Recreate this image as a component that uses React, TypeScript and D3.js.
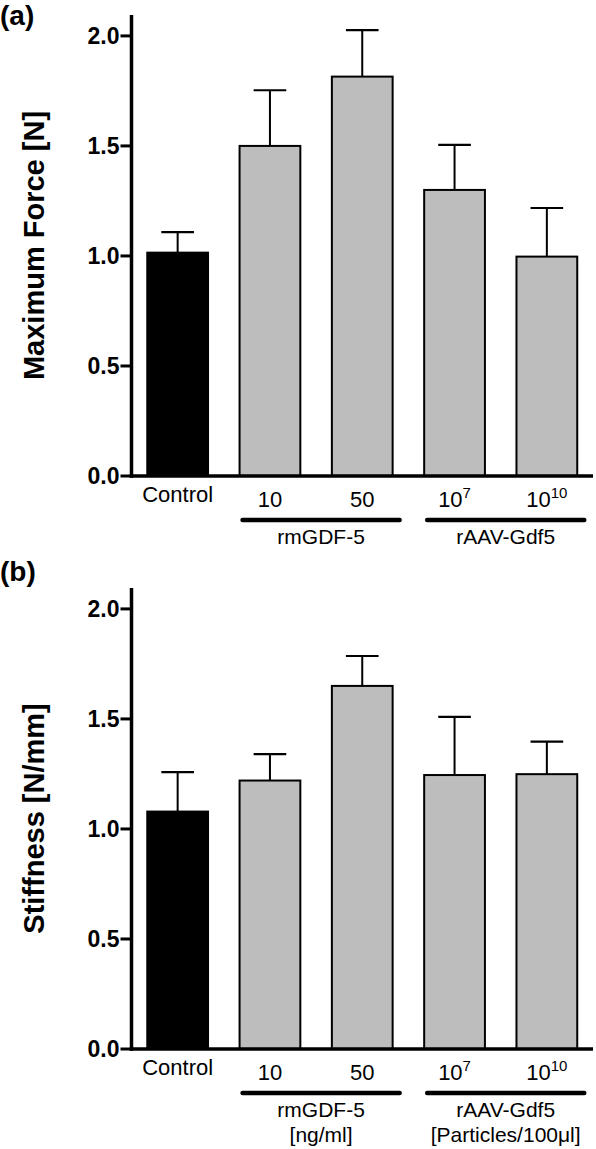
import React from "react";
import * as d3 from "d3";

const categories = ["Control", "10", "50", "10^7", "10^10"];
const tickBase = ["Control", "10", "50", "10", "10"];
const tickExp = ["", "", "", "7", "10"];
const barColors = ["#000000", "#bdbdbd", "#bdbdbd", "#bdbdbd", "#bdbdbd"];

const forceMean = [1.015, 1.5, 1.815, 1.3, 0.997];
const forceErr = [0.093, 0.253, 0.211, 0.205, 0.221];
const stiffMean = [1.079, 1.22, 1.65, 1.245, 1.249];
const stiffErr = [0.179, 0.12, 0.136, 0.264, 0.148];

const yTicks = [0, 0.5, 1.0, 1.5, 2.0];
const groupNames = ["rmGDF-5", "rAAV-Gdf5"];
const groupUnits = ["[ng/ml]", "[Particles/100\u03bcl]"];
const groupMembers = [
  [1, 2],
  [3, 4],
];

const FONT = "'Liberation Sans', Arial, Helvetica, sans-serif";

const W = 596;
const H = 1149;
const axisX = 131.5;
const axisRight = 593;
const baseY = 476;
const topY = 15;

const x = d3
  .scaleBand<string>()
  .domain(categories)
  .range([axisX, axisRight])
  .paddingInner(0.32)
  .paddingOuter(0.16);

const y = d3.scaleLinear().domain([0, 2.095]).range([baseY, topY]);
const fmt = d3.format(".1f");

function Panel({
  offsetY,
  label,
  title,
  means,
  errs,
  showUnits,
}: {
  offsetY: number;
  label: string;
  title: string;
  means: number[];
  errs: number[];
  showUnits: boolean;
}) {
  const bw = x.bandwidth();
  return (
    <g transform={`translate(0,${offsetY})`}>
      <text
        x={0}
        y={offsetY === 0 ? 25 : 8}
        fontFamily={FONT}
        fontWeight="bold"
        fontSize={28}
      >
        {label}
      </text>
      {/* y title */}
      <text
        transform={`translate(44,${(topY + baseY) / 2}) rotate(-90)`}
        textAnchor="middle"
        fontFamily={FONT}
        fontWeight="bold"
        fontSize={29}
      >
        {title}
      </text>
      {/* bars */}
      {categories.map((c, i) => (
        <g key={c}>
          <line
            x1={x(c)! + bw / 2}
            x2={x(c)! + bw / 2}
            y1={y(means[i])}
            y2={y(means[i] + errs[i])}
            stroke="#000"
            strokeWidth={2}
          />
          <line
            x1={x(c)! + bw / 2 - bw * 0.26}
            x2={x(c)! + bw / 2 + bw * 0.26}
            y1={y(means[i] + errs[i])}
            y2={y(means[i] + errs[i])}
            stroke="#000"
            strokeWidth={2.2}
          />
          <rect
            x={x(c)! + 1}
            y={y(means[i])}
            width={bw - 2}
            height={baseY - y(means[i])}
            fill={barColors[i]}
            stroke="#000"
            strokeWidth={2}
          />
        </g>
      ))}
      {/* axes */}
      <line x1={axisX} x2={axisX} y1={topY} y2={baseY + 1.75} stroke="#000" strokeWidth={3.5} />
      <line x1={axisX - 1.75} x2={axisRight} y1={baseY} y2={baseY} stroke="#000" strokeWidth={3.5} />
      {yTicks.map((t) => (
        <g key={t}>
          <line x1={axisX - 11} x2={axisX} y1={y(t)} y2={y(t)} stroke="#000" strokeWidth={3} />
          <text
            x={axisX - 12}
            y={y(t)}
            dy="0.36em"
            textAnchor="end"
            fontFamily={FONT}
            fontWeight="bold"
            fontSize={23}
          >
            {fmt(t)}
          </text>
        </g>
      ))}
      {/* category labels */}
      {categories.map((c, i) => (
        <text
          key={c}
          x={x(c)! + bw / 2}
          y={i === 0 ? baseY + 26 : baseY + 31}
          textAnchor="middle"
          fontFamily={FONT}
          fontSize={22}
        >
          {tickBase[i]}
          {tickExp[i] ? (
            <tspan fontSize={15} dy={-9}>
              {tickExp[i]}
            </tspan>
          ) : null}
        </text>
      ))}
      {/* group lines */}
      {groupMembers.map((m, gi) => {
        const x0 = x(categories[m[0]])! + 4;
        const x1 = x(categories[m[1]])! + bw + 6;
        const cx = (x0 + x1) / 2;
        return (
          <g key={gi}>
            <line x1={x0} x2={x1} y1={baseY + 44} y2={baseY + 44} stroke="#000" strokeWidth={4.5} strokeLinecap="round" />
            <text x={cx} y={baseY + 68} textAnchor="middle" fontFamily={FONT} fontSize={21}>
              {groupNames[gi]}
            </text>
            {showUnits ? (
              <text x={cx} y={baseY + 93} textAnchor="middle" fontFamily={FONT} fontSize={21}>
                {groupUnits[gi]}
              </text>
            ) : null}
          </g>
        );
      })}
    </g>
  );
}

export default function App() {
  return (
    <svg
      width={W}
      height={H}
      viewBox={`0 0 ${W} ${H}`}
      style={{ position: "absolute", left: 0, top: 0, background: "#fff" }}
    >
      <rect x={0} y={0} width={W} height={H} fill="#fff" />
      <Panel offsetY={0} label="(a)" title="Maximum Force [N]" means={forceMean} errs={forceErr} showUnits={false} />
      <Panel offsetY={573} label="(b)" title="Stiffness [N/mm]" means={stiffMean} errs={stiffErr} showUnits={true} />
    </svg>
  );
}
